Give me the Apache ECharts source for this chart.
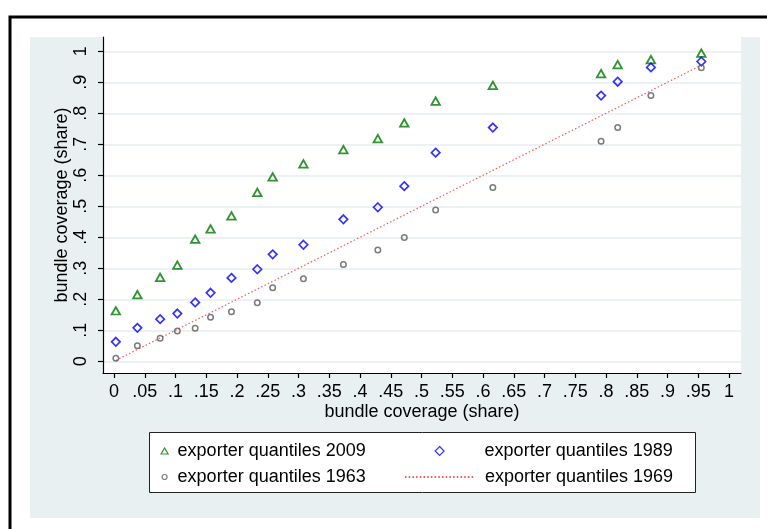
<!DOCTYPE html>
<html>
<head>
<meta charset="utf-8">
<script src="https://cdn.jsdelivr.net/npm/echarts@6/dist/echarts.min.js"></script>
<style>
  html, body { margin: 0; padding: 0; background: #ffffff; }
  #chart { width: 767px; height: 529px; }
</style>
</head>
<body>
<div id="chart"></div>
<script>
// Bundle coverage shares by exporter quantile
const coverage = [0.003, 0.038, 0.075, 0.103, 0.132, 0.157, 0.191, 0.233, 0.258, 0.308, 0.373, 0.429, 0.472, 0.523, 0.616, 0.792, 0.819, 0.873, 0.955];
const q2009 = [0.163, 0.215, 0.271, 0.310, 0.394, 0.427, 0.469, 0.545, 0.595, 0.637, 0.683, 0.718, 0.769, 0.839, 0.890, 0.928, 0.957, 0.973, 0.994];
const q1989 = [0.063, 0.108, 0.136, 0.154, 0.190, 0.221, 0.269, 0.297, 0.345, 0.376, 0.458, 0.497, 0.565, 0.673, 0.754, 0.857, 0.902, 0.948, 0.967];
const q1963 = [0.010, 0.050, 0.074, 0.098, 0.107, 0.142, 0.160, 0.189, 0.237, 0.266, 0.312, 0.359, 0.399, 0.488, 0.561, 0.710, 0.754, 0.857, 0.947];
const q1969 = [0.003, 0.038, 0.075, 0.103, 0.132, 0.157, 0.191, 0.233, 0.258, 0.308, 0.373, 0.429, 0.472, 0.523, 0.616, 0.792, 0.819, 0.873, 0.955];

const seriesNames = ['exporter quantiles 2009', 'exporter quantiles 1989', 'exporter quantiles 1963', 'exporter quantiles 1969'];

const xTickValues = [0, 0.05, 0.1, 0.15, 0.2, 0.25, 0.3, 0.35, 0.4, 0.45, 0.5, 0.55, 0.6, 0.65, 0.7, 0.75, 0.8, 0.85, 0.9, 0.95, 1];
const xTickLabels = ['0', '.05', '.1', '.15', '.2', '.25', '.3', '.35', '.4', '.45', '.5', '.55', '.6', '.65', '.7', '.75', '.8', '.85', '.9', '.95', '1'];
const yTickValues = [0, 0.1, 0.2, 0.3, 0.4, 0.5, 0.6, 0.7, 0.8, 0.9, 1];
const yTickLabels = ['0', '.1', '.2', '.3', '.4', '.5', '.6', '.7', '.8', '.9', '1'];

const axisTitle = 'bundle coverage (share)';

function pairs(xs, ys) {
  return xs.map((x, i) => [x, ys[i]]);
}
function lookup(values, labels) {
  return function (v) {
    for (let i = 0; i < values.length; i++) {
      if (Math.abs(values[i] - v) < 1e-6) return labels[i];
    }
    return '';
  };
}

const FONT = 'Liberation Sans, Arial, Helvetica, sans-serif';
const green = '#007800';
const blue = '#0000ff';
const gray = '#5a5a5a';
const red = '#f25a5a';

// one legend entry per block so each icon gets its own size and slot
function legendEntry(name, left, top, w, h, textPad, extra) {
  return Object.assign({
    data: [name],
    orient: 'vertical',
    left: left, top: top,
    padding: 0,
    itemWidth: w, itemHeight: h,
    itemStyle: { borderWidth: 1.2 },
    textStyle: { fontFamily: FONT, fontSize: 18, color: '#000', padding: [0, 0, 0, textPad] },
    selectedMode: false
  }, extra || {});
}

const chart = echarts.init(document.getElementById('chart'), null, { renderer: 'canvas' });

chart.setOption({
  animation: false,
  backgroundColor: '#ffffff',
  graphic: [
    // outer frame
    { type: 'rect', z: -10, shape: { x: 10, y: 17, width: 820, height: 620 },
      style: { fill: '#ffffff', stroke: '#000000', lineWidth: 3 } },
    // graph region
    { type: 'rect', z: -9, shape: { x: 30, y: 37, width: 730, height: 481 },
      style: { fill: '#e9f0f2' } },
    // legend box
    { type: 'rect', z: 1, shape: { x: 149.5, y: 432.5, width: 546, height: 60 },
      style: { fill: '#ffffff', stroke: '#222222', lineWidth: 1 } }
  ],
  grid: {
    left: 103, top: 37, right: 26, bottom: 156,
    show: true, backgroundColor: '#ffffff', borderWidth: 0
  },
  xAxis: {
    type: 'value',
    min: -0.01789, max: 1.01951,
    name: axisTitle,
    nameLocation: 'middle',
    nameGap: 30,
    nameMoveOverlap: false,
    nameTextStyle: { fontFamily: FONT, fontSize: 18, color: '#000' },
    axisLine: { show: true, onZero: false, lineStyle: { color: '#000', width: 1.2 } },
    axisTick: { show: true, length: 5, customValues: xTickValues, lineStyle: { color: '#000', width: 1.2 } },
    axisLabel: { customValues: xTickValues, formatter: lookup(xTickValues, xTickLabels),
      margin: 10, fontFamily: FONT, fontSize: 18, color: '#000' },
    splitLine: { show: false }
  },
  yAxis: {
    type: 'value',
    min: -0.0377, max: 1.0461,
    name: axisTitle,
    nameLocation: 'middle',
    nameRotate: 90,
    nameGap: 31.5,
    nameMoveOverlap: false,
    nameTextStyle: { fontFamily: FONT, fontSize: 18, color: '#000' },
    axisLine: { show: true, onZero: false, lineStyle: { color: '#000', width: 1.2 } },
    axisTick: { show: true, length: 5, customValues: yTickValues, lineStyle: { color: '#000', width: 1.2 } },
    axisLabel: { customValues: yTickValues, formatter: lookup(yTickValues, yTickLabels),
      rotate: 90, margin: 13, fontFamily: FONT, fontSize: 18, color: '#000' },
    splitLine: { show: true, lineStyle: { color: '#e4edf0', width: 1.6 } }
  },
  legend: [
    legendEntry(seriesNames[0], 160.5, 442, 7, 6, 4.5),
    legendEntry(seriesNames[2], 161.5, 468, 5, 5, 5.5),
    legendEntry(seriesNames[1], 434.5, 442, 9, 9, 35.5),
    legendEntry(seriesNames[3], 404, 468, 69, 9, 6, { itemStyle: { opacity: 0 } })
  ],
  series: [
    {
      name: seriesNames[0], type: 'scatter',
      data: pairs(coverage, q2009),
      symbol: 'triangle', symbolSize: [8.5, 7.5],
      itemStyle: { color: 'rgba(0,0,0,0)', borderColor: green, borderWidth: 1.8 },
      z: 5
    },
    {
      name: seriesNames[1], type: 'scatter',
      data: pairs(coverage, q1989),
      symbol: 'diamond', symbolSize: 8.5,
      itemStyle: { color: 'rgba(0,0,0,0)', borderColor: blue, borderWidth: 1.7 },
      z: 5
    },
    {
      name: seriesNames[2], type: 'scatter',
      data: pairs(coverage, q1963),
      symbol: 'circle', symbolSize: 5.5,
      itemStyle: { color: 'rgba(0,0,0,0)', borderColor: gray, borderWidth: 1.5 },
      z: 5
    },
    {
      name: seriesNames[3], type: 'line',
      data: pairs(coverage, q1969),
      symbol: 'none', showSymbol: false,
      lineStyle: { color: red, width: 1.2, type: [1.5, 2.2] },
      itemStyle: { color: red },
      z: 4
    }
  ]
});
</script>
</body>
</html>
